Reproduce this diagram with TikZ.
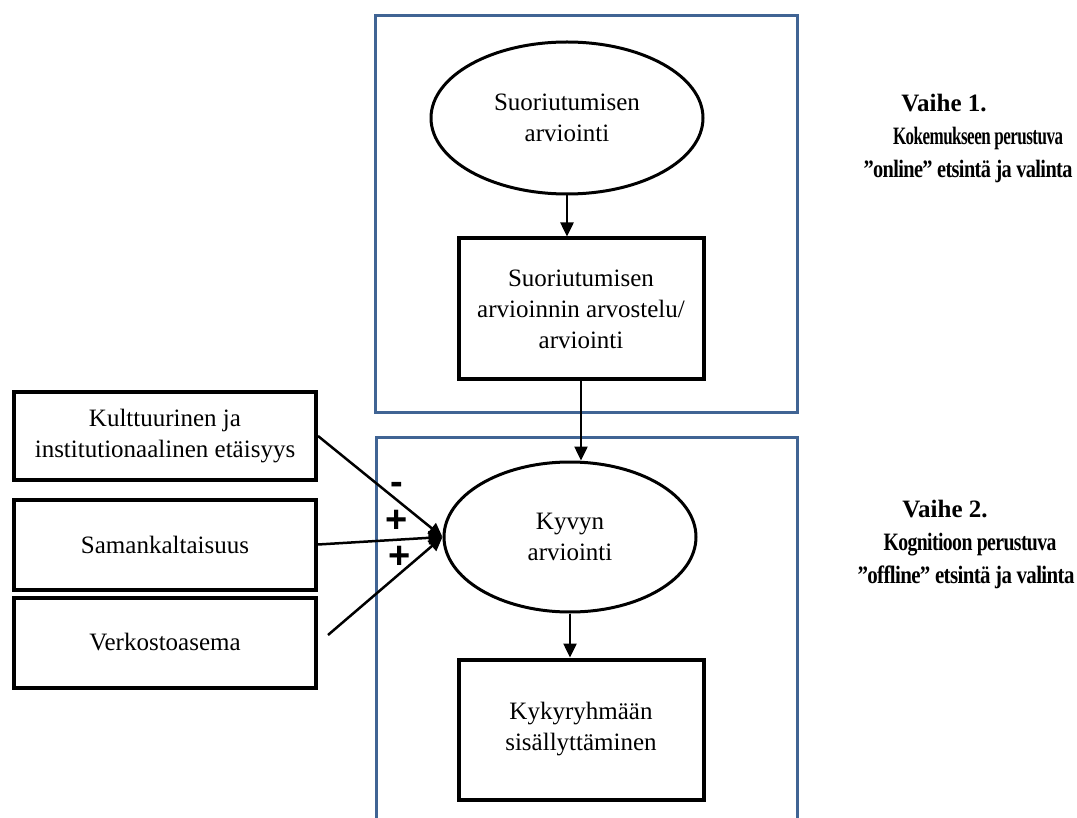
\documentclass[tikz,border=0pt]{standalone}
\usepackage{fontspec}
\setmainfont{Liberation Serif}
\newfontfamily\signfont{Liberation Sans}
\newfontfamily\tightbold[LetterSpace=-3]{Liberation Serif Bold}
\usetikzlibrary{shapes.geometric,arrows.meta}
\definecolor{frameblue}{RGB}{64,100,148}
% set a caption line tightly, then fit it to a given width keeping its height
\newcommand\fitwidth[2]{\resizebox{#1}{\height}{\tightbold #2}}
\begin{document}
\begin{tikzpicture}[x=1pt,y=-1pt,
  box/.style={draw=black, line width=4pt, inner sep=0pt, align=center,
    font=\fontsize{25}{31}\selectfont},
  oval/.style={ellipse, draw=black, line width=3pt, inner sep=0pt, align=center,
    font=\fontsize{25}{31}\selectfont},
  frame/.style={draw=frameblue, line width=3pt},
  link/.style={line width=2.5pt, -{Triangle[length=14pt,width=13pt]}},
  sign/.style={inner sep=0pt, font=\signfont\bfseries\fontsize{38}{38}\selectfont},
  phase/.style={inner sep=0pt, anchor=base, font=\bfseries\fontsize{25}{30}\selectfont}
]
\useasboundingbox (0,0) rectangle (1077,818);

% stage frames
\draw[frame] (375,16) rectangle (797,413);
\draw[frame] (376,830) -- (376,437.5) -- (797,437.5) -- (797,830);

% stage 1
\node[oval, minimum width=272pt, minimum height=152pt] (e1) at (567,118) {Suoriutumisen\\arviointi};
\node[box, minimum width=245pt, minimum height=141pt] (r1) at (581,309) {Suoriutumisen\\arvioinnin arvostelu/\\arviointi};

% stage 2
\node[oval, minimum width=252pt, minimum height=150pt] (e2) at (570,537) {Kyvyn\\arviointi};
\node[box, minimum width=245pt, minimum height=140pt] (r2) at (581,729.5) {Kykyryhmään\\sisällyttäminen};

% factors
\node[box, minimum width=302pt, minimum height=87pt] (ka) at (165,436) {Kulttuurinen ja\\institutionaalinen etäisyys};
\node[box, minimum width=302pt, minimum height=90pt] (sa) at (165,544.5) {Samankaltaisuus};
\node[box, minimum width=302pt, minimum height=90pt] (ve) at (165,642.5) {Verkostoasema};
\coordinate (vfree) at (328,635);

% flow
\draw[link] (e1.south) -- (e1.south |- r1.north);
\draw[link] (r1.south) -- (r1.south |- e2.north);
\draw[link] (e2.south) -- (e2.south |- r2.north);
\draw[link] (ka.east) -- (e2.west);
\draw[link] (sa.east) -- (e2.west);
\draw[link] (vfree) -- (e2.west);

% effect signs
\node[sign] (m1) at (397,488) {-};
\node[sign] (p1) at (397,521) {+};
\node[sign] (p2) at (400,557) {+};

% stage captions
\node[phase] (v1a) at (944,112) {Vaihe 1.};
\node[phase] (v1b) at (978,145) {\fitwidth{170pt}{Kokemukseen perustuva}};
\node[phase] (v1c) at (968,178) {\fitwidth{209pt}{”online” etsintä ja valinta}};
\node[phase] (v2a) at (945,517) {Vaihe 2.};
\node[phase] (v2b) at (970,550) {\fitwidth{173pt}{Kognitioon perustuva}};
\node[phase] (v2c) at (966,583) {\fitwidth{217pt}{”offline” etsintä ja valinta}};
\end{tikzpicture}
\end{document}
